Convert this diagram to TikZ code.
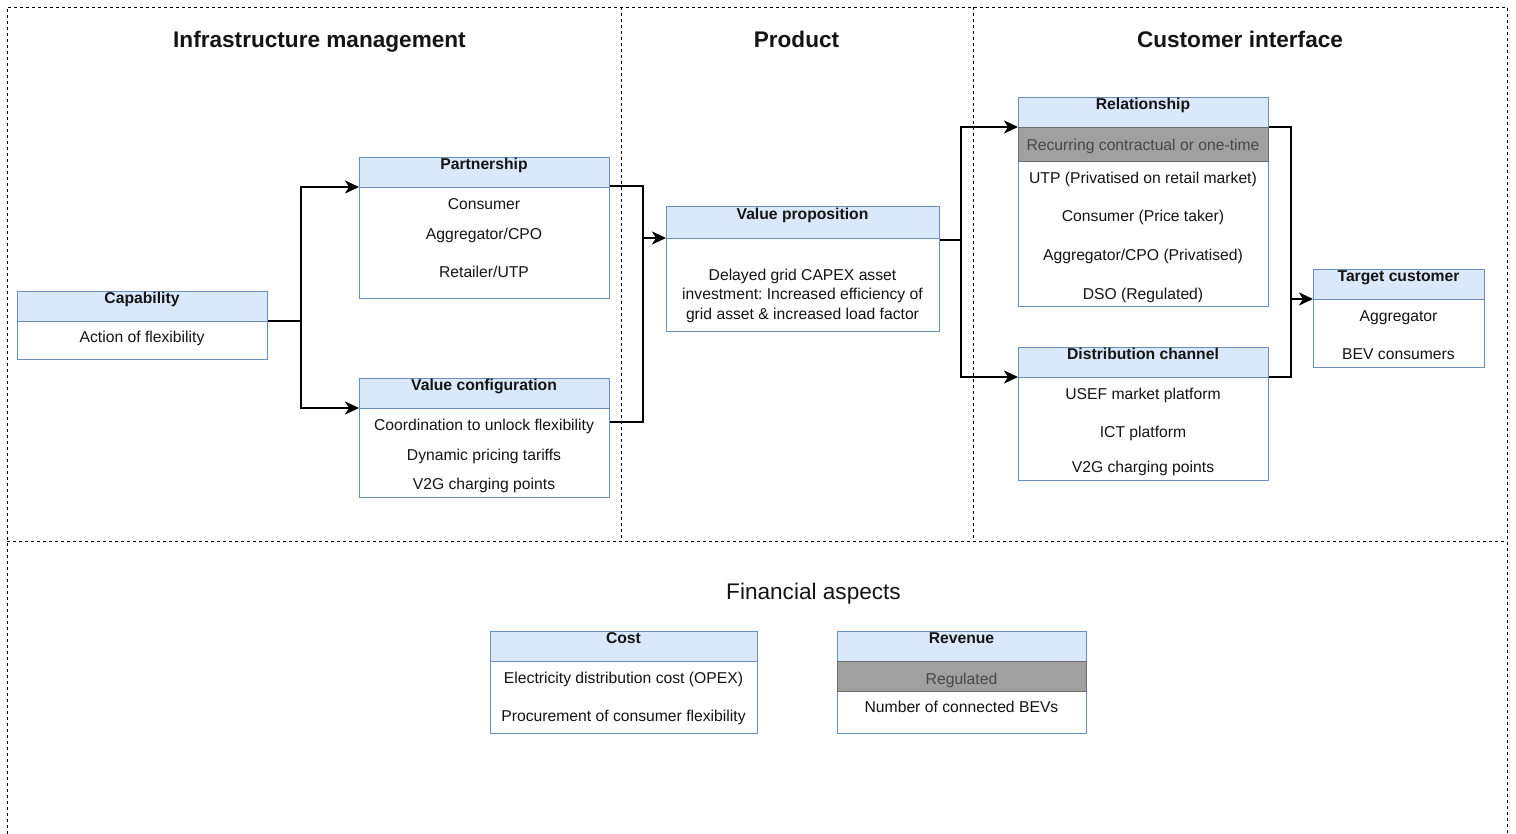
\documentclass[tikz,border=0pt]{standalone}
\usepackage{fontspec}
\setmainfont{Liberation Sans}
\usetikzlibrary{arrows.meta,calc}
\frenchspacing

\definecolor{hdrblue}{HTML}{DAE8FC}
\definecolor{laneblue}{HTML}{6C8EBF}
\definecolor{bandgrey}{HTML}{A0A0A0}
\definecolor{bandedge}{HTML}{6E6E6E}
\definecolor{bandtext}{HTML}{474747}
\definecolor{ink}{HTML}{141414}

\tikzset{
  hdr/.style={draw=laneblue, fill=hdrblue, line width=1pt, anchor=north west,
    inner sep=0pt, minimum height=30pt},
  bodybox/.style={draw=laneblue, fill=white, line width=1pt, anchor=north west,
    inner sep=0pt},
  band/.style={draw=bandedge, fill=bandgrey, line width=1pt, anchor=north west,
    inner sep=0pt},
  htxt/.style={font=\bfseries\fontsize{15.7}{18}\selectfont, text=ink, inner sep=0pt,
    text height=11.2pt, text depth=0pt},
  txt/.style={font=\fontsize{15.7}{19.5}\selectfont, text=ink, inner sep=0pt,
    text height=11.2pt, text depth=0pt},
  gtxt/.style={txt, text=bandtext},
  para/.style={font=\fontsize{15.7}{19.5}\selectfont, text=ink, inner sep=0pt, align=center},
  title/.style={font=\bfseries\fontsize{22.6}{26}\selectfont, text=ink, inner sep=0pt,
    text height=16.2pt, text depth=0pt},
  subtitle/.style={font=\fontsize{22.6}{26}\selectfont, text=ink, inner sep=0pt,
    text height=16.2pt, text depth=0pt},
  link/.style={line width=2.2pt, draw=black},
  arr/.style={link, -{Stealth[length=14pt, width=13pt, inset=4pt]}},
  frame/.style={draw=black, line width=0.9pt, dash pattern=on 3pt off 3pt},
}

\begin{document}
\begin{tikzpicture}[x=1pt, y=-1pt]
\useasboundingbox (0,0) rectangle (1516,834);

% ---- dashed frame and section dividers ----
\coordinate (ftl) at (7,7);
\coordinate (ftr) at (1507,7);
\coordinate (fbl) at (7,834);
\coordinate (fbr) at (1507,834);
\coordinate (fml) at (7,541);
\coordinate (fmr) at (1507,541);
\coordinate (d1t) at (621,7);
\coordinate (d1b) at (621,541);
\coordinate (d2t) at (973,7);
\coordinate (d2b) at (973,541);
\draw[frame] (fbl) -- (ftl) -- (ftr) -- (fbr);
\draw[frame] (fml) -- (fmr);
\draw[frame] (d1t) -- (d1b);
\draw[frame] (d2t) -- (d2b);

% ---- section titles ----
\node[title] (t1) at (319.5,39) {Infrastructure management};
\node[title] (t2) at (796.5,39) {Product};
\node[title] (t3) at (1240,39) {Customer interface};
\node[subtitle] (t4) at (813.5,591) {Financial aspects};

% ---- Capability ----
\node[hdr, minimum width=250pt] (caph) at (17,291) {};
\node[bodybox, minimum width=250pt, minimum height=38pt] (capb) at (17,321) {};
\node[htxt] at (142,298) {Capability};
\node[txt] at (142,337) {Action of flexibility};

% ---- Partnership ----
\node[hdr, minimum width=250pt] (parh) at (359,157) {};
\node[bodybox, minimum width=250pt, minimum height=111pt] (parb) at (359,187) {};
\node[htxt] at (484,164) {Partnership};
\node[txt] at (484,204) {Consumer};
\node[txt] at (484,234) {Aggregator/CPO};
\node[txt] at (484,272) {Retailer/UTP};

% ---- Value configuration ----
\node[hdr, minimum width=250pt] (vch) at (359,378) {};
\node[bodybox, minimum width=250pt, minimum height=89pt] (vcb) at (359,408) {};
\node[htxt] at (484,385) {Value configuration};
\node[txt] at (484,425) {Coordination to unlock flexibility};
\node[txt] at (484,455) {Dynamic pricing tariffs};
\node[txt] at (484,484) {V2G charging points};

% ---- Value proposition ----
\node[hdr, minimum width=273pt, minimum height=32pt] (vph) at (666,206) {};
\node[bodybox, minimum width=273pt, minimum height=93pt] (vpb) at (666,238) {};
\node[htxt] at (802.5,214) {Value proposition};
\node[para] at (802.5,295.5) {Delayed grid CAPEX asset\\investment: Increased efficiency of\\grid asset \& increased load factor};

% ---- Relationship ----
\node[hdr, minimum width=250pt] (relh) at (1018,97) {};
\node[bodybox, minimum width=250pt, minimum height=179pt] (relb) at (1018,127) {};
\node[band, minimum width=250pt, minimum height=34pt] (relg) at (1018,127) {};
\node[htxt] at (1143,104) {Relationship};
\node[gtxt] at (1143,145) {Recurring contractual or one-time};
\node[txt] at (1143,178) {UTP (Privatised on retail market)};
\node[txt] at (1143,216) {Consumer (Price taker)};
\node[txt] at (1143,255) {Aggregator/CPO (Privatised)};
\node[txt] at (1143,294) {DSO (Regulated)};

% ---- Distribution channel ----
\node[hdr, minimum width=250pt] (dch) at (1018,347) {};
\node[bodybox, minimum width=250pt, minimum height=103pt] (dcb) at (1018,377) {};
\node[htxt] at (1143,354) {Distribution channel};
\node[txt] at (1143,394) {USEF market platform};
\node[txt] at (1143,432) {ICT platform};
\node[txt] at (1143,467) {V2G charging points};

% ---- Target customer ----
\node[hdr, minimum width=171pt] (tch) at (1313,269) {};
\node[bodybox, minimum width=171pt, minimum height=68pt] (tcb) at (1313,299) {};
\node[htxt] at (1398.5,276) {Target customer};
\node[txt] at (1398.5,316) {Aggregator};
\node[txt] at (1398.5,354) {BEV consumers};

% ---- Cost ----
\node[hdr, minimum width=267pt] (costh) at (490,631) {};
\node[bodybox, minimum width=267pt, minimum height=72pt] (costb) at (490,661) {};
\node[htxt] at (623.5,638) {Cost};
\node[txt] at (623.5,678) {Electricity distribution cost (OPEX)};
\node[txt] at (623.5,716) {Procurement of consumer flexibility};

% ---- Revenue ----
\node[hdr, minimum width=249pt] (revh) at (837,631) {};
\node[bodybox, minimum width=249pt, minimum height=72pt] (revb) at (837,661) {};
\node[band, minimum width=249pt, minimum height=30pt] (revg) at (837,661) {};
\node[htxt] at (961.5,638) {Revenue};
\node[gtxt] at (961.5,679) {Regulated};
\node[txt] at (961.5,707) {Number of connected BEVs};

% ---- connectors ----
% capability splits to partnership and value configuration
\coordinate (j1) at (301,321);
\draw[link] (capb.north east) -- (j1);
\draw[arr] (j1) |- (parb.north west);
\draw[arr] (j1) |- (vcb.north west);

% partnership and value configuration merge into value proposition
\coordinate (j2) at (643,238);
\draw[link] ($(parb.north east)+(0,-1)$) -| (j2);
\draw[link] ($(vcb.north east)+(0,14)$) -| (j2);
\draw[arr] (j2) -- (vpb.north west);

% value proposition splits to relationship and distribution channel
\coordinate (j3) at (961,240);
\draw[link] ($(vpb.north east)+(0,2)$) -- (j3);
\draw[arr] (j3) |- (relb.north west);
\draw[arr] (j3) |- (dcb.north west);

% relationship and distribution channel merge into target customer
\coordinate (j4) at (1291,299);
\draw[link] (relb.north east) -| (j4);
\draw[link] (dcb.north east) -| (j4);
\draw[arr] (j4) -- (tcb.north west);
\end{tikzpicture}
\end{document}
